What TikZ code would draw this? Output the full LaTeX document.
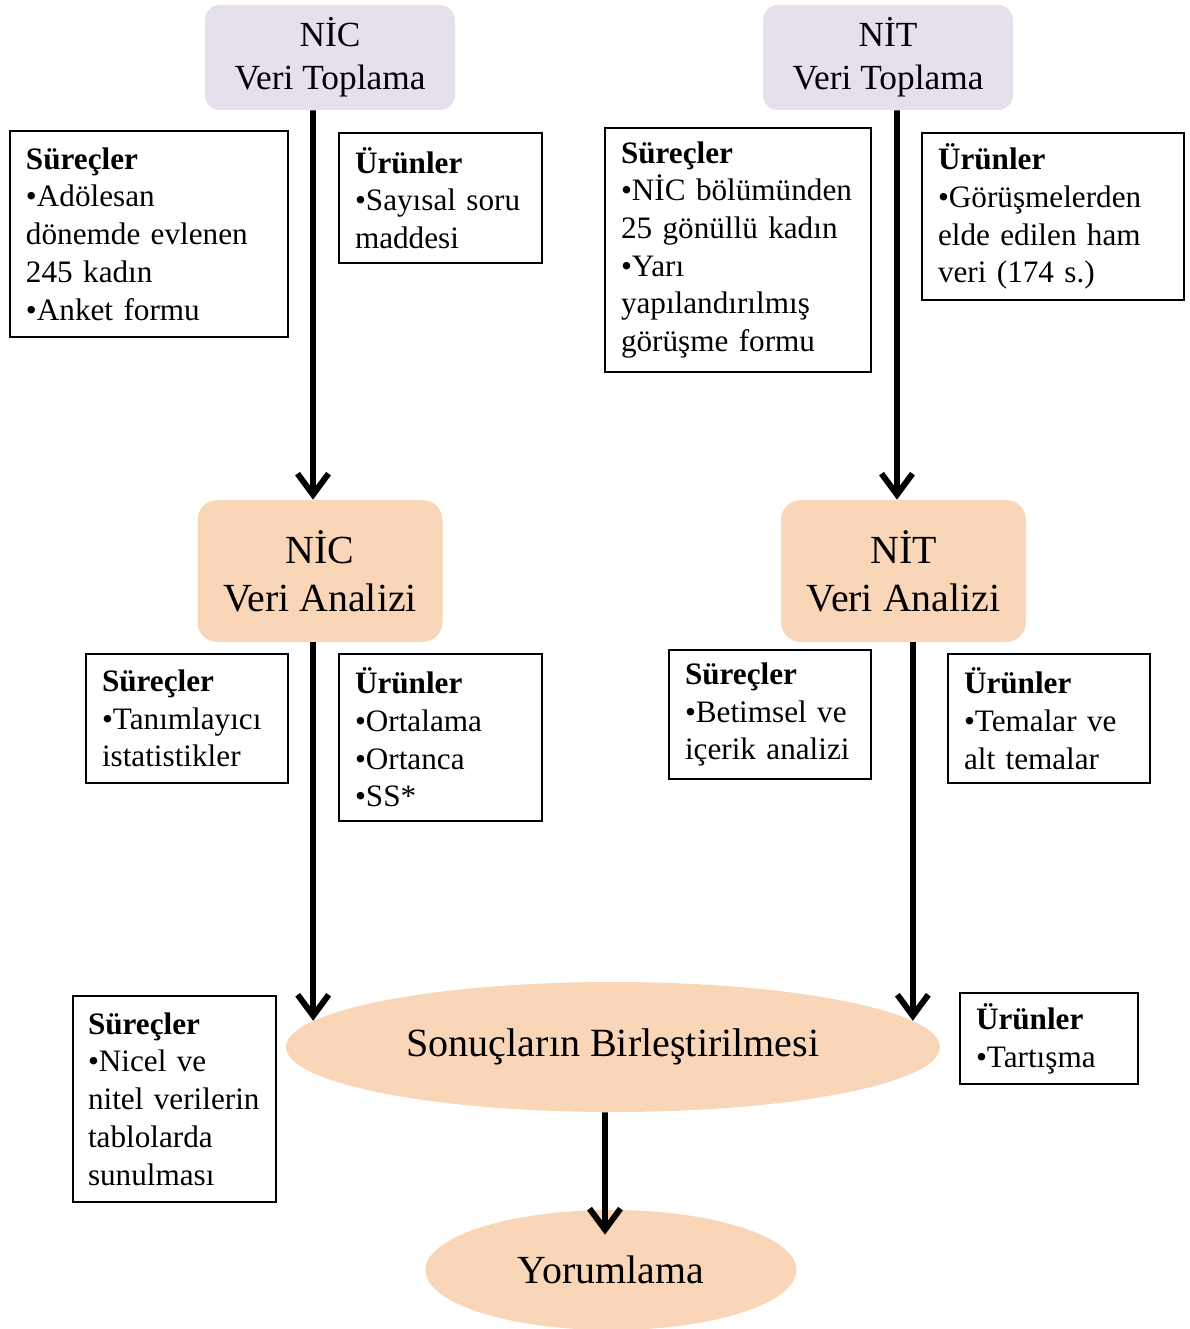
\documentclass[tikz,border=0pt]{standalone}
\usepackage{fontspec}
\setmainfont{Liberation Serif}
\usetikzlibrary{positioning, arrows.meta, shapes.geometric}

\definecolor{lavanta}{RGB}{229,224,236}
\definecolor{seftali}{RGB}{250,214,184}

\begin{document}
\begin{tikzpicture}[
            toplama/.style = {rectangle, rounded corners=0.3cm, fill=lavanta, minimum width=5.0cm, minimum height=2.1cm, align=center, font=\fontsize{20.1}{24.5}\selectfont},
            analiz/.style = {rectangle, rounded corners=0.4cm, fill=seftali, minimum width=4.9cm, minimum height=2.84cm, align=center, font=\fontsize{22.7}{27.3}\selectfont},
            kutu/.style = {rectangle, draw, line width=1.1pt, inner xsep=0.32cm, inner ysep=0pt, align=left, font=\fontsize{17.75}{21.45}\selectfont},
            elips/.style = {ellipse, fill=seftali, inner sep=0pt},
            arr/.style = {line width=3.4pt, -{Straight Barb[length=0.42cm, width=0.62cm]}},
        ]

            \useasboundingbox (0,0) rectangle (23.78,-26.58);

            % Veri toplama
            \node[toplama] (topNIC) at (6.6,-1.15) {NİC\\Veri Toplama};
            \node[toplama] (topNIT) at (17.76,-1.15) {NİT\\Veri Toplama};

            \node[kutu, text width=4.92cm, minimum height=4.12cm] (sur1) at (2.98,-4.68)
                {\textbf{Süreçler}\\•Adölesan\\dönemde evlenen\\245 kadın\\•Anket formu};
            \node[kutu, text width=3.42cm, minimum height=2.6cm] (urun1) at (8.81,-3.96)
                {\textbf{Ürünler}\\•Sayısal soru\\maddesi};
            \node[kutu, text width=4.68cm, minimum height=4.88cm] (sur2) at (14.76,-5.0)
                {\textbf{Süreçler}\\•NİC bölümünden\\25 gönüllü kadın\\•Yarı\\yapılandırılmış\\görüşme formu};
            \node[kutu, text width=4.6cm, minimum height=3.34cm] (urun2) at (21.06,-4.33)
                {\textbf{Ürünler}\\•Görüşmelerden\\elde edilen ham\\veri (174 s.)};

            % Veri analizi
            \node[analiz] (anaNIC) at (6.4,-11.42) {NİC\\Veri Analizi};
            \node[analiz] (anaNIT) at (18.07,-11.42) {NİT\\Veri Analizi};

            \node[kutu, text width=3.4cm, minimum height=2.58cm] (sur3) at (3.74,-14.37)
                {\textbf{Süreçler}\\•Tanımlayıcı\\istatistikler};
            \node[kutu, text width=3.42cm, minimum height=3.34cm] (urun3) at (8.81,-14.75)
                {\textbf{Ürünler}\\•Ortalama\\•Ortanca\\•SS*};
            \node[kutu, text width=3.4cm, minimum height=2.58cm] (sur4) at (15.4,-14.29)
                {\textbf{Süreçler}\\•Betimsel ve\\içerik analizi};
            \node[kutu, text width=3.4cm, minimum height=2.58cm] (urun4) at (20.98,-14.37)
                {\textbf{Ürünler}\\•Temalar ve\\alt temalar};

            % Birlestirme ve yorum
            \node[elips, minimum width=13.08cm, minimum height=2.6cm, font=\fontsize{22.8}{27}\selectfont] (sonuc) at (12.26,-20.94) {Sonuçların Birleştirilmesi};
            \node[elips, minimum width=7.42cm, minimum height=2.4cm, font=\fontsize{22.7}{26}\selectfont] (yorum) at (12.22,-25.4) {Yorumlama};

            \node[kutu, inner xsep=0.3cm, text width=3.46cm, minimum height=4.12cm] (sur5) at (3.49,-21.98)
                {\textbf{Süreçler}\\•Nicel ve\\nitel\ verilerin\\tablolarda\\sunulması};
            \node[kutu, text width=2.92cm, minimum height=1.82cm] (urun5) at (20.98,-20.77)
                {\textbf{Ürünler}\\•Tartışma};

            % Oklar
            \draw[arr] ([xshift=-0.34cm]topNIC.south) -- ([xshift=-0.14cm]anaNIC.north);
            \draw[arr] ([xshift=0.18cm]topNIT.south) -- ([xshift=-0.13cm]anaNIT.north);
            \draw[arr] (anaNIC.south -| sonuc.175) -- (sonuc.175);
            \draw[arr] (anaNIT.south -| sonuc.5) -- (sonuc.5);
            \draw[arr] ([xshift=-0.16cm]sonuc.south) -- ([xshift=-0.12cm, yshift=-0.5cm]yorum.north);

        \end{tikzpicture}
\end{document}
